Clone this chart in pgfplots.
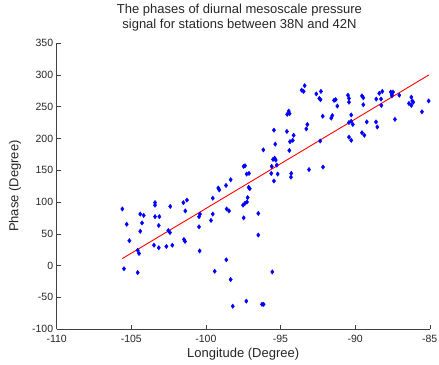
\documentclass[border=0pt]{standalone}
\usepackage{pgfplots}
\pgfplotsset{compat=1.18}
\usepackage{fontspec}
\setmainfont{Liberation Sans}
\begin{document}
\begin{tikzpicture}
\path[use as bounding box] (-56.7pt,-35.7pt) rectangle (382.3pt,329.1pt);
\begin{axis}[
  at={(0,0)}, anchor=south west,
  scale only axis, width=373pt, height=286pt,
  xmin=-110, xmax=-85, ymin=-100, ymax=350,
  axis x line=bottom, axis y line=left,
  axis line style={-, black!75},
  xtick={-110,-105,-100,-95,-90,-85},
  ytick={-100,-50,0,50,100,150,200,250,300,350},
  tick align=inside, major tick length=4pt,
  tick style={black!75, thin},
  /pgf/number format/assume math mode=true,
  ticklabel style={font=\fontsize{10.5}{12}\selectfont, text=black!85},
  xticklabel style={yshift=-3pt},
  xlabel={Longitude (Degree)}, ylabel={Phase (Degree)},
  label style={font=\fontsize{13}{15}\selectfont, text=black!85},
  xlabel style={at={(axis description cs:0.5,-0.087)}, anchor=center},
  ylabel style={at={(axis description cs:-0.112,0.5)}, anchor=center},
  title={The phases of diurnal mesoscale pressure\\signal for stations between 38N and 42N},
  title style={font=\fontsize{13}{15}\selectfont, text=black!85, align=center, at={(axis description cs:0.49,1)}, anchor=south, yshift=2pt},
  clip=false,
]
\addplot[only marks, mark=diamond*, mark size=2.2pt, color=blue] coordinates {
(-105.60,89) (-105.31,65) (-105.13,39) (-105.49,-5) (-104.57,-11) (-104.57,24)
(-104.48,19) (-104.40,54) (-104.28,67) (-104.40,81) (-104.17,79) (-103.41,99)
(-103.41,95) (-103.41,77) (-103.12,77) (-103.16,63) (-103.48,32) (-103.16,28)
(-102.65,30) (-102.25,32) (-102.39,93) (-102.52,55) (-102.41,52) (-101.51,99)
(-101.27,103) (-101.38,86) (-101.47,41) (-101.40,38) (-100.46,77) (-100.40,81)
(-100.46,61) (-100.42,23)
(-99.66,71) (-99.54,81) (-99.54,106) (-99.17,122) (-99.10,119) (-98.65,126)
(-98.34,135) (-98.61,89) (-98.45,86) (-97.47,156) (-97.38,157) (-97.27,144)
(-97.11,145) (-97.13,123) (-97.06,121) (-97.20,107) (-97.51,95) (-97.38,98)
(-97.25,100) (-97.47,75) (-96.49,82) (-96.15,182) (-95.35,191) (-95.50,167)
(-95.39,169) (-95.32,166) (-95.25,158) (-95.59,156) (-95.62,145) (-95.19,144)
(-95.44,133) (-94.28,145) (-94.41,181) (-94.36,195) (-94.18,197) (-94.12,205)
(-94.57,211) (-95.44,213)
(-99.41,-9) (-98.63,9) (-98.34,-22) (-96.49,48) (-95.55,-10) (-98.20,-64)
(-97.29,-56) (-96.24,-61) (-96.13,-61)
(-93.38,283) (-93.58,276) (-93.45,274) (-92.60,270) (-92.29,274) (-92.40,263)
(-92.32,261) (-94.45,243) (-94.39,239) (-94.55,238) (-93.20,222) (-93.27,215)
(-92.17,235) (-91.41,260) (-91.30,261) (-91.19,251) (-91.60,232) (-91.53,236)
(-90.48,268) (-90.41,263) (-90.41,257) (-90.26,237) (-90.41,225) (-90.26,227)
(-90.15,222) (-92.34,196) (-90.41,202) (-90.26,197) (-93.09,151) (-92.15,155)
(-94.30,139)
(-89.54,267) (-89.45,264) (-89.45,253) (-89.54,209) (-89.38,205) (-89.22,226)
(-88.58,262) (-88.38,271) (-88.18,274) (-88.26,262) (-88.24,252) (-88.60,226)
(-88.51,218) (-87.61,273) (-87.54,269) (-87.46,273) (-87.53,267) (-87.04,268)
(-87.33,230) (-86.23,265) (-86.17,259) (-86.39,255) (-86.23,252) (-86.10,257)
(-85.52,242) (-85.07,259)
};
\addplot[red, line width=0.9pt] coordinates {(-105.6,11) (-85.05,300)};
\end{axis}
\end{tikzpicture}
\end{document}
